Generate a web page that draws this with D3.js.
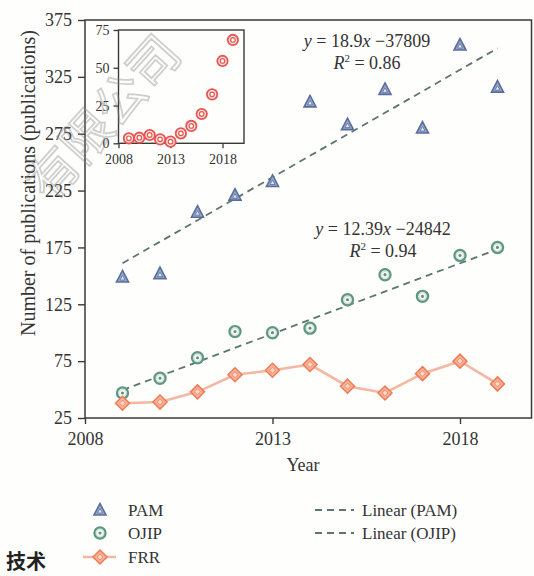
<!DOCTYPE html>
<html>
<head>
<meta charset="utf-8">
<script src="https://cdn.jsdelivr.net/npm/d3@7"></script>
<style>
  html, body { margin: 0; padding: 0; background: #fefefc; }
  svg { display: block; }
</style>
</head>
<body>
<svg id="chart" width="534" height="576"></svg>
<script>
// ---------------- data ----------------
const years = [2009, 2010, 2011, 2012, 2013, 2014, 2015, 2016, 2017, 2018, 2019];
const pam   = [149, 152, 206, 221, 233, 303, 283, 314, 280, 353, 316];
const ojip  = [47, 60, 78, 101, 100, 104, 129, 151, 132, 168, 175];
const frr   = [38, 39, 48, 63, 67, 72, 53, 47, 64, 75, 55];
const frrInset = [3.3, 3.7, 5.5, 2.6, 1.1, 6.6, 11.5, 19.4, 32.4, 54.5, 68.4];
// trend line coefficients (slope, intercept) as printed on the chart
const trendNames = ["PAM", "OJIP"];
const trendSlope = [18.9, 12.39];
const trendIntercept = [-37809, -24842];
const trendLabel = ["y = 18.9x \u221237809", "y = 12.39x \u221224842"];
const trendR2 = ["0.86", "0.94"];
const xTicks = [2008, 2013, 2018];
const yTicks = [25, 75, 125, 175, 225, 275, 325, 375];
const insetYTicks = [0, 25, 50, 75];
const legendLeft = ["PAM", "OJIP", "FRR"];
const legendRight = ["Linear (PAM)", "Linear (OJIP)"];

// ---------------- styles ----------------
const SERIF = "'Liberation Serif', 'DejaVu Serif', 'Noto Serif', Tinos, FreeSerif, 'Nimbus Roman', 'Times New Roman', Times, serif";
const cPAM = "#5a6e9c", cPAMfill = "#97a8cc";
const cOJIP = "#5e9683", cOJIPfill = "#d5e8e0";
const cFRR = "#ef7b56", cFRRfill = "#f8b298", cFRRline = "#f6b7a2";
const cInset = "#e8544f";
const cTrend = "#5d7573";
const cAxis = "#3a3a3a";
const cText = "#333";

const svg = d3.select("#chart");
function txt(sel) { return sel.attr("font-family", SERIF).attr("fill", cText); }

// ---------------- main scales ----------------
const L = 85, R = 531.5, T = 20, B = 418;
const x = d3.scaleLinear().domain([2008, 2018]).range([L, 460]);
const y = d3.scaleLinear().domain([25, 375]).range([B, T]);

// frame
svg.append("rect").attr("x", L).attr("y", T).attr("width", R - L).attr("height", B - T)
  .attr("fill", "none").attr("stroke", cAxis).attr("stroke-width", 1.5);

// axes
const xAxis = svg.append("g").attr("transform", `translate(0,${B})`)
  .call(d3.axisBottom(x).tickValues(xTicks).tickFormat(d3.format("d")).tickSize(6).tickPadding(8));
const yAxis = svg.append("g").attr("transform", `translate(${L},0)`)
  .call(d3.axisLeft(y).tickValues(yTicks).tickSize(7).tickPadding(6));
[xAxis, yAxis].forEach(g => {
  g.attr("font-family", SERIF).attr("font-size", 18);
  g.select(".domain").remove();
  g.selectAll("line").attr("stroke", cAxis).attr("stroke-width", 1.4);
  txt(g.selectAll("text"));
});

txt(svg.append("text")).attr("x", 303).attr("y", 471).attr("text-anchor", "middle")
  .attr("font-size", 18).text("Year");
const yLab = txt(svg.append("text")).attr("transform", "translate(28,183) rotate(-90)").attr("text-anchor", "middle")
  .attr("dy", "0.35em").attr("font-size", 18).text("Number of publications (publications)");
// fit the axis title to the length it has in the reference
{
  const len = yLab.node().getComputedTextLength();
  if (len > 0) yLab.attr("font-size", Math.min(20, 18 * 329 / len));
}

// trend lines
const trendG = svg.append("g");
trendSlope.forEach((m, i) => {
  const x0 = years[0], x1 = years[years.length - 1];
  trendG.append("line")
    .attr("x1", x(x0)).attr("y1", y(m * x0 + trendIntercept[i]))
    .attr("x2", x(x1)).attr("y2", y(m * x1 + trendIntercept[i]))
    .attr("stroke", cTrend).attr("stroke-width", 1.8).attr("stroke-dasharray", "7,5");
});

// FRR line
svg.append("path").datum(years.map((yr, i) => [yr, frr[i]]))
  .attr("d", d3.line().x(d => x(d[0])).y(d => y(d[1])))
  .attr("fill", "none").attr("stroke", cFRRline).attr("stroke-width", 2.6);

// marker helpers
function triangle(g, cx, cy) {
  g.append("path").attr("d", `M${cx},${cy - 6.5} L${cx + 6},${cy + 5} L${cx - 6},${cy + 5} Z`)
    .attr("fill", cPAMfill).attr("stroke", cPAM).attr("stroke-width", 1.6);
  g.append("path").attr("d", `M${cx},${cy - 1.5} L${cx + 2.5},${cy + 3} L${cx - 2.5},${cy + 3} Z`)
    .attr("fill", "#e4e9f3").attr("stroke", cPAM).attr("stroke-width", 0.8);
}
function ring(g, cx, cy) {
  g.append("circle").attr("cx", cx).attr("cy", cy).attr("r", 5.6)
    .attr("fill", cOJIPfill).attr("stroke", cOJIP).attr("stroke-width", 2.2);
  g.append("circle").attr("cx", cx).attr("cy", cy).attr("r", 2.2)
    .attr("fill", "#6f8c84").attr("stroke", "#fff").attr("stroke-width", 1.2);
}
function diamond(g, cx, cy) {
  g.append("path").attr("d", `M${cx},${cy - 7} L${cx + 7},${cy} L${cx},${cy + 7} L${cx - 7},${cy} Z`)
    .attr("fill", cFRRfill).attr("stroke", cFRR).attr("stroke-width", 1.5);
  g.append("path").attr("d", `M${cx},${cy - 3} L${cx + 3},${cy} L${cx},${cy + 3} L${cx - 3},${cy} Z`)
    .attr("fill", "#fbd8cb").attr("stroke", cFRR).attr("stroke-width", 0.8);
}

const mk = svg.append("g");
years.forEach((yr, i) => {
  ring(mk, x(yr), y(ojip[i]));
  diamond(mk, x(yr), y(frr[i]));
  triangle(mk, x(yr), y(pam[i]));
});

// equations
function equation(cx, by, i) {
  const t = txt(svg.append("text")).attr("x", cx).attr("y", by).attr("text-anchor", "middle").attr("font-size", 18);
  const parts = trendLabel[i].split(/(y|x)/);
  parts.forEach(p => {
    if (!p) return;
    const s = t.append("tspan").text(p);
    if (p === "y" || p === "x") s.attr("font-style", "italic");
  });
  const t2 = txt(svg.append("text")).attr("x", cx).attr("y", by + 22).attr("text-anchor", "middle").attr("font-size", 18);
  t2.append("tspan").attr("font-style", "italic").text("R");
  t2.append("tspan").attr("font-size", 11).attr("dy", -7).text("2");
  t2.append("tspan").attr("dy", 7).text(" = " + trendR2[i]);
}
equation(367, 47, 0);
equation(383, 235, 1);

// ---------------- inset ----------------
const iL = 118.5, iR = 244, iT = 30, iB = 143.3;
const xi = d3.scaleLinear().domain([2008, 2018]).range([iL, 222.5]);
const yi = d3.scaleLinear().domain([0, 75]).range([iB, iT]);
svg.append("rect").attr("x", iL).attr("y", iT).attr("width", iR - iL).attr("height", iB - iT)
  .attr("fill", "#fefefc").attr("stroke", cAxis).attr("stroke-width", 1.4);
const xiA = svg.append("g").attr("transform", `translate(0,${iB})`)
  .call(d3.axisBottom(xi).tickValues(xTicks).tickFormat(d3.format("d")).tickSize(5).tickPadding(6));
const yiA = svg.append("g").attr("transform", `translate(${iL},0)`)
  .call(d3.axisLeft(yi).tickValues(insetYTicks).tickSize(5).tickPadding(4));
[xiA, yiA].forEach(g => {
  g.attr("font-family", SERIF).attr("font-size", 14);
  g.select(".domain").remove();
  g.selectAll("line").attr("stroke", cAxis).attr("stroke-width", 1.3);
  txt(g.selectAll("text"));
});
years.forEach((yr, i) => {
  const cx = xi(yr), cy = yi(frrInset[i]);
  svg.append("circle").attr("cx", cx).attr("cy", cy).attr("r", 5.2)
    .attr("fill", "#fde6e4").attr("stroke", cInset).attr("stroke-width", 1.8);
  svg.append("circle").attr("cx", cx).attr("cy", cy).attr("r", 2.3)
    .attr("fill", "#fff").attr("stroke", cInset).attr("stroke-width", 1.2);
});

// ---------------- legend ----------------
const lg = svg.append("g");
const rowsY = [510, 533, 557];
triangle(lg, 100, rowsY[0]);
ring(lg, 100, rowsY[1]);
lg.append("line").attr("x1", 83).attr("x2", 116).attr("y1", rowsY[2]).attr("y2", rowsY[2])
  .attr("stroke", cFRRline).attr("stroke-width", 2.6);
diamond(lg, 100, rowsY[2]);
legendLeft.forEach((t, i) => {
  txt(lg.append("text")).attr("x", 128).attr("y", rowsY[i]).attr("dy", "0.35em").attr("font-size", 17).text(t);
});
legendRight.forEach((t, i) => {
  lg.append("line").attr("x1", 315).attr("x2", 354).attr("y1", rowsY[i]).attr("y2", rowsY[i])
    .attr("stroke", cTrend).attr("stroke-width", 1.8).attr("stroke-dasharray", "7,5");
  txt(lg.append("text")).attr("x", 362).attr("y", rowsY[i]).attr("dy", "0.35em").attr("font-size", 17).text(t);
});

// faint diagonal watermark (drawn over the chart, as in the reference)
svg.append("text").attr("transform", "translate(50,204) rotate(-48)")
  .attr("font-size", 50).attr("fill", "none").attr("stroke", "#8a8a8a").attr("stroke-width", 1.8)
  .attr("opacity", 0.4)
  .attr("font-family", "'Noto Sans CJK SC', sans-serif").text("有限公司");

// watermark text at bottom-left
svg.append("text").attr("x", 6).attr("y", 569).attr("font-size", 20).attr("font-weight", "bold")
  .attr("fill", "#222").attr("font-family", "'Noto Sans CJK SC', sans-serif").text("技术");
</script>
</body>
</html>
